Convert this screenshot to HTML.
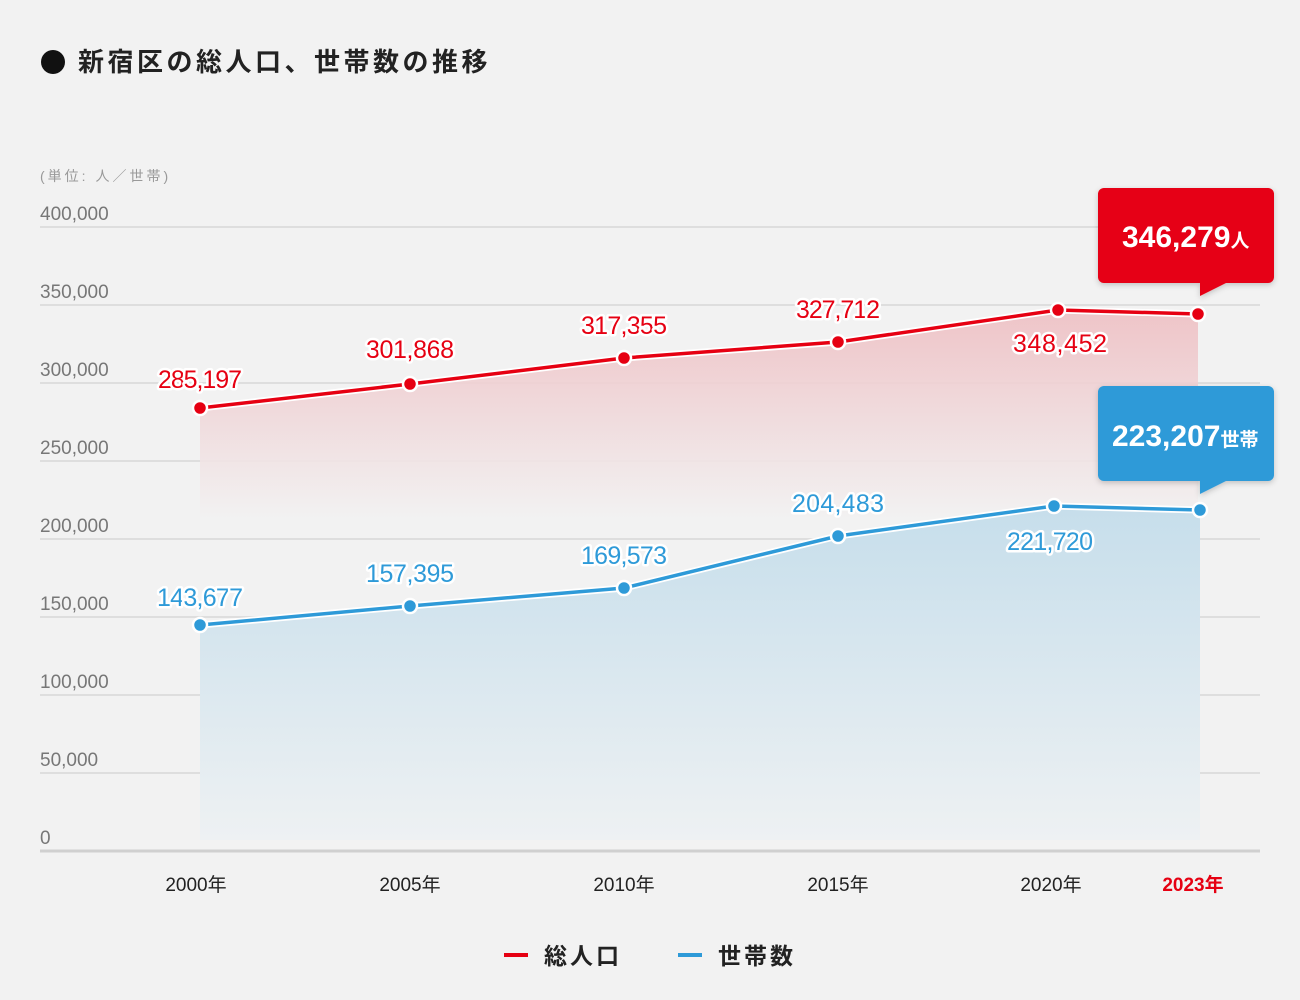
<!DOCTYPE html>
<html><head><meta charset="utf-8"><style>
html,body{margin:0;padding:0;background:#f2f2f2;}
svg{display:block;font-family:"Liberation Sans","Noto Sans CJK JP",sans-serif;}
.n{font-family:"Liberation Sans Narrow","Liberation Sans","Noto Sans CJK JP",sans-serif;}
</style></head><body>
<svg width="1300" height="1000" viewBox="0 0 1300 1000" xmlns="http://www.w3.org/2000/svg">
<defs>
<linearGradient id="rg" x1="0" y1="0" x2="0" y2="1"><stop offset="0" stop-color="#eebfc3"/><stop offset="1" stop-color="#f2f2f2"/></linearGradient>
<linearGradient id="bg" x1="0" y1="0" x2="0" y2="1"><stop offset="0" stop-color="#c6deeb"/><stop offset="1" stop-color="#eef1f3"/></linearGradient>
<filter id="sh" x="-10%" y="-10%" width="130%" height="140%"><feDropShadow dx="0" dy="2" stdDeviation="3" flood-opacity="0.2"/></filter>
</defs>
<rect width="1300" height="1000" fill="#f2f2f2"/>
<circle cx="53" cy="62" r="12" fill="#111"/>
<text x="78" y="71" font-size="26" letter-spacing="3.5" font-weight="bold" fill="#222">新宿区の総人口、世帯数の推移</text>
<text x="40" y="181" font-size="14" letter-spacing="3" fill="#999">(単位: 人／世帯)</text>
<g stroke="#d8d8d8" stroke-width="1.5">
<line x1="40" y1="227" x2="1260" y2="227"/><line x1="40" y1="305" x2="1260" y2="305"/><line x1="40" y1="383" x2="1260" y2="383"/><line x1="40" y1="461" x2="1260" y2="461"/><line x1="40" y1="539" x2="1260" y2="539"/><line x1="40" y1="617" x2="1260" y2="617"/><line x1="40" y1="695" x2="1260" y2="695"/><line x1="40" y1="773" x2="1260" y2="773"/>
</g>
<g font-size="19" fill="#777" class="n">
<text x="40" y="220">400,000</text><text x="40" y="298">350,000</text><text x="40" y="376">300,000</text><text x="40" y="454">250,000</text><text x="40" y="532">200,000</text><text x="40" y="610">150,000</text><text x="40" y="688">100,000</text><text x="40" y="766">50,000</text><text x="40" y="844">0</text>
</g>
<polygon points="200,408 410,384 624,358 838,342 1058,310 1198,314 1198,520 200,520" fill="url(#rg)" opacity="0.9"/>
<polygon points="200,625 410,606 624,588 838,536 1054,506 1200,510 1200,840 200,840" fill="url(#bg)"/>
<line x1="40" y1="851" x2="1260" y2="851" stroke="#d0d0d0" stroke-width="3"/>
<polyline points="200,408 410,384 624,358 838,342 1058,310 1198,314" fill="none" stroke="#fff" stroke-width="7"/>
<polyline points="200,408 410,384 624,358 838,342 1058,310 1198,314" fill="none" stroke="#e60012" stroke-width="3.5"/>
<polyline points="200,625 410,606 624,588 838,536 1054,506 1200,510" fill="none" stroke="#fff" stroke-width="7"/>
<polyline points="200,625 410,606 624,588 838,536 1054,506 1200,510" fill="none" stroke="#2e9ad8" stroke-width="3.5"/>
<g fill="#e60012" stroke="#fff" stroke-width="2.5">
<circle cx="200" cy="408" r="7"/><circle cx="410" cy="384" r="7"/><circle cx="624" cy="358" r="7"/><circle cx="838" cy="342" r="7"/><circle cx="1058" cy="310" r="7"/><circle cx="1198" cy="314" r="7"/>
</g>
<g fill="#2e9ad8" stroke="#fff" stroke-width="2.5">
<circle cx="200" cy="625" r="7"/><circle cx="410" cy="606" r="7"/><circle cx="624" cy="588" r="7"/><circle cx="838" cy="536" r="7"/><circle cx="1054" cy="506" r="7"/><circle cx="1200" cy="510" r="7"/>
</g>
<g class="n" font-size="25" text-anchor="middle" stroke="#fff" stroke-width="5" paint-order="stroke" stroke-linejoin="round">
<g fill="#e60012"><text x="200" y="388" textLength="84">285,197</text><text x="410" y="358" textLength="88">301,868</text><text x="624" y="334" textLength="86">317,355</text><text x="838" y="318" textLength="84">327,712</text><text x="1060" y="352" textLength="94">348,452</text></g>
<g fill="#2e9ad8"><text x="200" y="606" textLength="86">143,677</text><text x="410" y="582" textLength="88">157,395</text><text x="624" y="564" textLength="86">169,573</text><text x="838" y="512" textLength="92">204,483</text><text x="1050" y="550" textLength="86">221,720</text></g>
</g>
<g filter="url(#sh)">
<rect x="1098" y="188" width="176" height="95" rx="6" fill="#e60012"/>
<polygon points="1200,282 1228,282 1200,296" fill="#e60012"/>
<rect x="1098" y="386" width="176" height="95" rx="6" fill="#2e9ad8"/>
<polygon points="1200,480 1228,480 1200,494" fill="#2e9ad8"/>
</g>
<text x="1122" y="247" class="n" font-size="30" font-weight="bold" fill="#fff">346,279<tspan font-size="19">人</tspan></text>
<text x="1112" y="446" class="n" font-size="30" font-weight="bold" fill="#fff">223,207<tspan font-size="19">世帯</tspan></text>
<g font-size="19" fill="#222" text-anchor="middle" class="n">
<text x="196" y="891">2000年</text><text x="410" y="891">2005年</text><text x="624" y="891">2010年</text><text x="838" y="891">2015年</text><text x="1051" y="891">2020年</text>
<text x="1193" y="891" fill="#e60012" font-weight="bold">2023年</text>
</g>
<line x1="504" y1="955" x2="528" y2="955" stroke="#e60012" stroke-width="4"/>
<text x="544" y="964" font-size="23" letter-spacing="3" font-weight="bold" fill="#222">総人口</text>
<line x1="678" y1="955" x2="702" y2="955" stroke="#2e9ad8" stroke-width="4"/>
<text x="718" y="964" font-size="23" letter-spacing="3" font-weight="bold" fill="#222">世帯数</text>
</svg>
</body></html>
